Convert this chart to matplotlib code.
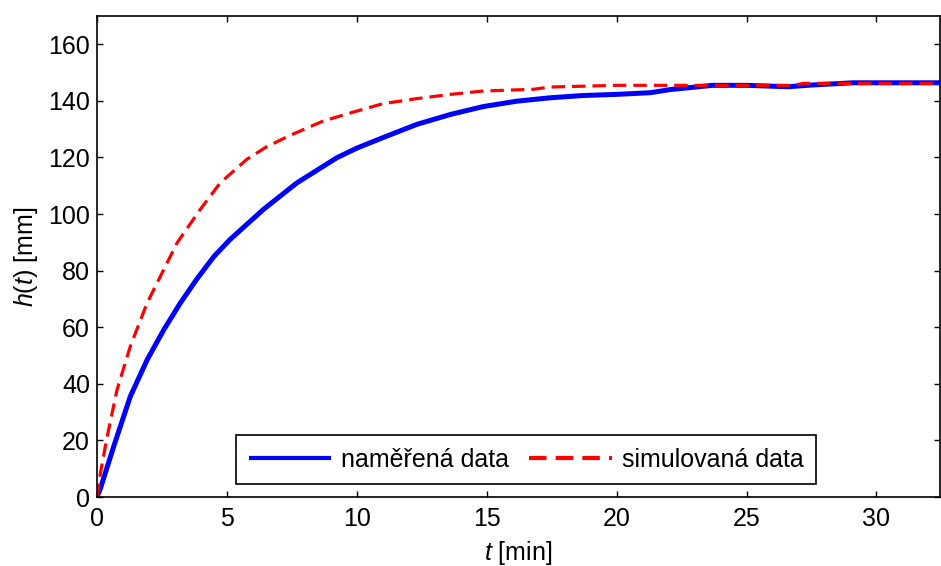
import matplotlib
matplotlib.use('Agg')
import matplotlib.pyplot as plt

t_meas = [0, 0.13, 0.64, 1.28, 1.93, 2.57, 3.21, 3.84, 4.5, 5.12, 6.40, 7.69, 9.23,
          10.0, 11.0, 12.31, 13.6, 14.87, 16.16, 17.44, 18.7, 20.0, 21.3, 22.06,
          23.7, 25.0, 26.6, 27.5, 29.1, 30.5, 32.45]
h_meas = [0, 3.0, 17.8, 35.5, 48.5, 59.1, 68.6, 77.0, 85.0, 91.0, 101.6, 111.0, 119.9,
          123.3, 127.0, 131.7, 135.2, 138.0, 139.9, 141.1, 141.9, 142.3, 142.9, 144.0,
          145.5, 145.5, 145.0, 145.6, 146.4, 146.4, 146.4]

# simulated data
t_sim = [0, 0.13, 0.39, 0.77, 1.28, 1.93, 2.57, 3.08, 3.97, 4.74, 5.76, 6.53, 7.43,
         8.71, 10.0, 11.0, 12.31, 13.6, 14.87, 16.8, 17.44, 20.0, 26.8, 27.2, 32.45]
h_sim = [0, 8.4, 21.3, 37.9, 53.2, 68.6, 80.4, 89.8, 101.6, 111.0, 119.3, 123.8, 127.8,
         132.9, 136.4, 139.0, 140.8, 142.3, 143.5, 144.1, 144.9, 145.5, 145.5, 146.2,
         146.2]

plt.rcParams['font.family'] = ['Liberation Sans', 'DejaVu Sans']
plt.rcParams['mathtext.fontset'] = 'custom'
plt.rcParams['mathtext.it'] = 'Liberation Sans:italic'
plt.rcParams['mathtext.rm'] = 'Liberation Sans'

fig = plt.figure(figsize=(9.41, 5.66), dpi=100)
ax = fig.add_axes([0.1031, 0.1219, 0.8959, 0.8498])

ax.plot(t_meas, h_meas, color='#0000ff', lw=3.6, solid_capstyle='butt', label='naměřená data')
ax.plot(t_sim, h_sim, color='#ff0000', lw=2.3, dashes=(4.2, 2.2), label='simulovaná data')

ax.set_xlim(0, 32.45)
ax.set_ylim(0, 170)
ax.set_xticks([0, 5, 10, 15, 20, 25, 30])
ax.set_yticks([0, 20, 40, 60, 80, 100, 120, 140, 160])
ax.tick_params(direction='in', length=4, width=1, labelsize=18, top=True, right=True)
ax.tick_params(axis='x', pad=7)
ax.tick_params(axis='y', pad=5)
for s in ax.spines.values():
    s.set_linewidth(1.2)

ax.set_xlabel('$t$ [min]', fontsize=18, labelpad=6)
ax.set_ylabel('$h(t)$ [mm]', fontsize=18, labelpad=6)

leg = ax.legend(loc='lower center', bbox_to_anchor=(0.509, 0.027), ncol=2, fontsize=18,
                fancybox=False, edgecolor='black', framealpha=1, borderaxespad=0,
                borderpad=0.5, handlelength=3.3, handletextpad=0.4, columnspacing=0.8)
leg.get_frame().set_linewidth(1.2)
for ln in leg.get_lines():
    ln.set_linewidth(3.0)

fig.savefig('out.png', dpi=100)
